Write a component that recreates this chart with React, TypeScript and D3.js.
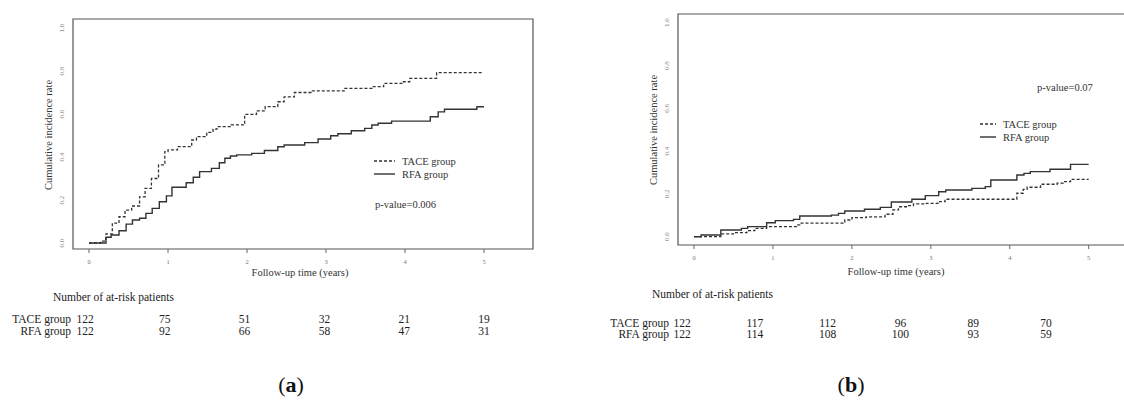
import React from 'react';
import * as d3 from 'd3';

// follow-up years and y ticks
const years = [0, 1, 2, 3, 4, 5];
const yTicks = [0, 0.2, 0.4, 0.6, 0.8, 1.0];

// panel (a) cumulative incidence, [year, rate]
const taceA: [number, number][] = [
  [0, 0], [0.15, 0.009], [0.215, 0.042], [0.295, 0.092], [0.38, 0.122], [0.456, 0.153],
  [0.54, 0.172], [0.64, 0.215], [0.71, 0.254], [0.79, 0.3], [0.88, 0.363], [0.96, 0.425],
  [1.0, 0.433], [1.12, 0.448], [1.3, 0.479], [1.36, 0.495], [1.49, 0.515], [1.57, 0.53],
  [1.62, 0.541], [1.8, 0.549], [1.97, 0.598], [2.12, 0.615], [2.23, 0.634], [2.39, 0.657],
  [2.47, 0.68], [2.6, 0.7], [2.82, 0.708], [3.24, 0.719], [3.58, 0.727], [3.73, 0.742],
  [3.98, 0.75], [4.06, 0.766], [4.4, 0.792], [4.97, 0.792]
];
const rfaA: [number, number][] = [
  [0, 0], [0.215, 0.027], [0.28, 0.037], [0.38, 0.057], [0.47, 0.088], [0.55, 0.107],
  [0.64, 0.115], [0.72, 0.138], [0.8, 0.161], [0.89, 0.192], [0.98, 0.219], [1.05, 0.259],
  [1.23, 0.28], [1.32, 0.306], [1.4, 0.332], [1.55, 0.347], [1.65, 0.373], [1.72, 0.394],
  [1.79, 0.405], [1.87, 0.41], [2.06, 0.417], [2.22, 0.43], [2.39, 0.448], [2.47, 0.456],
  [2.73, 0.467], [2.9, 0.484], [3.06, 0.499], [3.15, 0.508], [3.32, 0.522], [3.49, 0.533],
  [3.58, 0.549], [3.66, 0.557], [3.83, 0.567], [4.32, 0.587], [4.42, 0.61], [4.5, 0.622],
  [4.91, 0.634], [5.0, 0.634]
];

// panel (b)
const taceB: [number, number][] = [
  [0, 0], [0.34, 0.013], [0.51, 0.019], [0.67, 0.028], [0.77, 0.039], [0.92, 0.047],
  [1.3, 0.055], [1.34, 0.063], [1.91, 0.078], [2.0, 0.089], [2.18, 0.093], [2.42, 0.105],
  [2.52, 0.125], [2.59, 0.14], [2.7, 0.145], [2.78, 0.153], [2.93, 0.156], [3.09, 0.164],
  [3.18, 0.175], [4.09, 0.203], [4.17, 0.221], [4.22, 0.231], [4.39, 0.245], [4.6, 0.25],
  [4.68, 0.257], [4.77, 0.268], [5.0, 0.268]
];
const rfaB: [number, number][] = [
  [0, 0], [0.09, 0.008], [0.34, 0.031], [0.6, 0.039], [0.68, 0.047], [0.92, 0.065],
  [1.03, 0.075], [1.26, 0.081], [1.34, 0.097], [1.74, 0.101], [1.83, 0.109], [1.91, 0.12],
  [2.16, 0.128], [2.36, 0.137], [2.5, 0.162], [2.76, 0.175], [2.93, 0.192], [3.1, 0.21],
  [3.19, 0.218], [3.52, 0.226], [3.69, 0.234], [3.76, 0.265], [4.09, 0.288], [4.18, 0.296],
  [4.26, 0.304], [4.51, 0.315], [4.77, 0.338], [5.0, 0.338]
];

// number at risk
const atRiskTaceA = [122, 75, 51, 32, 21, 19];
const atRiskRfaA = [122, 92, 66, 58, 47, 31];
const atRiskTaceB = [122, 117, 112, 96, 89, 70];
const atRiskRfaB = [122, 114, 108, 100, 93, 59];

const FONT = '"Liberation Serif", "DejaVu Serif", serif';

type PanelProps = {
  box: [number, number, number, number]; // left, top, right, bottom
  xRange: [number, number];
  yRange: [number, number];
  tace: [number, number][];
  rfa: [number, number][];
  yLabel: [number, number];
  xLabel: [number, number];
  legend: [number, number, number];
  pval: [number, number, string];
  table: {
    range: [number, number];
    labelX: number;
    headX: number;
    headY: number;
    row1Y: number;
    row2Y: number;
    tace: number[];
    rfa: number[];
  };
  caption: [number, number, string];
};

function Panel(p: PanelProps) {
  const x = d3.scaleLinear().domain([0, 5]).range(p.xRange);
  const y = d3.scaleLinear().domain([0, 1]).range(p.yRange);
  const line = d3.line<[number, number]>()
    .x(d => x(d[0]))
    .y(d => y(d[1]))
    .curve(d3.curveStepAfter);
  const tx = d3.scaleLinear().domain([0, 5]).range(p.table.range);
  const [l, t, r, b] = p.box;
  const [lx, ly, lw] = p.legend;

  return (
    <g fontFamily={FONT}>
      <path d={`M${l},${b}V${t}H${r}V${b}Z`} fill="none" stroke="#555" strokeWidth={1.2} />
      {years.map(v => (
        <g key={v}>
          <line x1={x(v)} x2={x(v)} y1={b} y2={b + 4} stroke="#666" />
          <text x={x(v)} y={b + 15} fontSize={6.5} fill="#777" textAnchor="middle">{v}</text>
        </g>
      ))}
      {yTicks.map(v => (
        <text key={v} transform={`translate(${l - 9},${y(v)}) rotate(-90)`} fontSize={7}
          fill="#888" textAnchor="middle">{v.toFixed(1)}</text>
      ))}
      <path d={line(p.tace) || ''} fill="none" stroke="#333" strokeWidth={1.3} strokeDasharray="3,2" />
      <path d={line(p.rfa) || ''} fill="none" stroke="#333" strokeWidth={1.4} />

      <text transform={`translate(${p.yLabel[0]},${p.yLabel[1]}) rotate(-90)`} fontSize={10.5}
        fill="#333" textAnchor="middle">Cumulative incidence rate</text>
      <text x={p.xLabel[0]} y={p.xLabel[1]} fontSize={10.5} fill="#333" textAnchor="middle">
        Follow-up time (years)
      </text>

      <line x1={lx} x2={lx + lw} y1={ly} y2={ly} stroke="#333" strokeWidth={1.3} strokeDasharray="3,2" />
      <text x={lx + lw + 7} y={ly + 3.5} fontSize={10.5} fill="#333">TACE group</text>
      <line x1={lx} x2={lx + lw} y1={ly + 13} y2={ly + 13} stroke="#333" strokeWidth={1.4} />
      <text x={lx + lw + 7} y={ly + 16.5} fontSize={10.5} fill="#333">RFA group</text>
      <text x={p.pval[0]} y={p.pval[1]} fontSize={10.5} fill="#333">{p.pval[2]}</text>

      <text x={p.table.headX} y={p.table.headY} fontSize={11.5} fill="#222">Number of at-risk patients</text>
      <text x={p.table.labelX} y={p.table.row1Y} fontSize={11.5} fill="#222" textAnchor="end">TACE group</text>
      <text x={p.table.labelX} y={p.table.row2Y} fontSize={11.5} fill="#222" textAnchor="end">RFA group</text>
      {years.map((v, i) => (
        <g key={v}>
          <text x={tx(v)} y={p.table.row1Y} fontSize={11.5} fill="#222" textAnchor="middle">{p.table.tace[i]}</text>
          <text x={tx(v)} y={p.table.row2Y} fontSize={11.5} fill="#222" textAnchor="middle">{p.table.rfa[i]}</text>
        </g>
      ))}

      <text x={p.caption[0]} y={p.caption[1]} fontSize={22} fill="#111" textAnchor="middle">
        (<tspan fontWeight="bold">{p.caption[2]}</tspan>)
      </text>
    </g>
  );
}

export default function App() {
  return (
    <svg width={1124} height={401} style={{ position: 'absolute', left: 0, top: 0, background: '#fff' }}>
      <Panel
        box={[73, 19, 533, 249]}
        xRange={[89, 484]}
        yRange={[243, 28]}
        tace={taceA}
        rfa={rfaA}
        yLabel={[52, 135]}
        xLabel={[300, 276]}
        legend={[374, 161, 21]}
        pval={[375, 208, 'p-value=0.006']}
        table={{ range: [85, 484], labelX: 71, headX: 53, headY: 301, row1Y: 323, row2Y: 335, tace: atRiskTaceA, rfa: atRiskRfaA }}
        caption={[291, 392, 'a']}
      />
      <Panel
        box={[678, 14, 1130, 245]}
        xRange={[694, 1088.7]}
        yRange={[236.7, 22.7]}
        tace={taceB}
        rfa={rfaB}
        yLabel={[657, 130]}
        xLabel={[896, 275]}
        legend={[980, 124, 16]}
        pval={[1037, 91, 'p-value=0.07']}
        table={{ range: [682, 1046], labelX: 669, headX: 652, headY: 298, row1Y: 327, row2Y: 338, tace: atRiskTaceB, rfa: atRiskRfaB }}
        caption={[851, 392, 'b']}
      />
    </svg>
  );
}
